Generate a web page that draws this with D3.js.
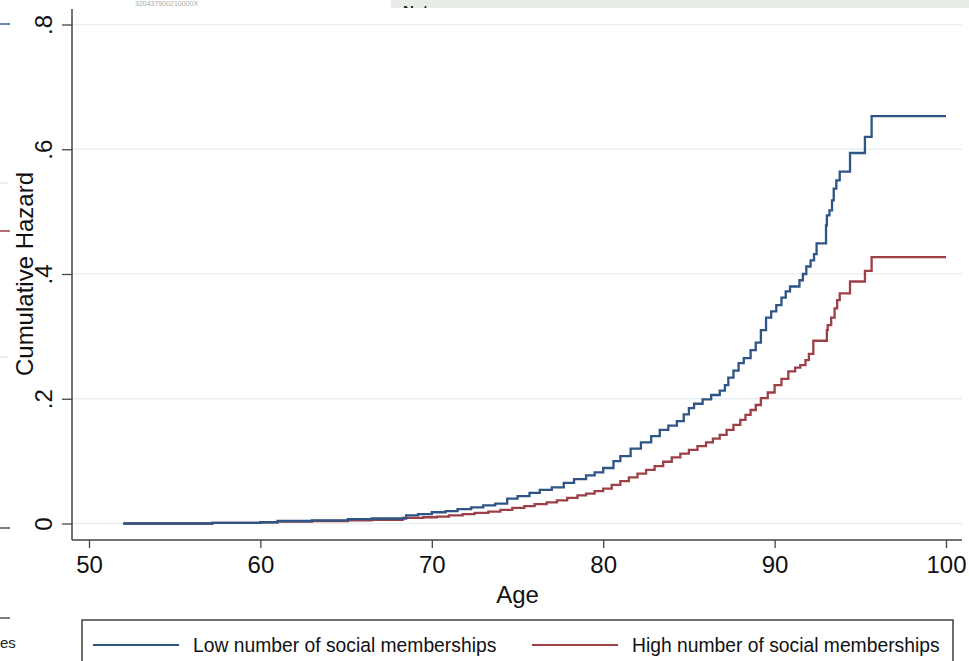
<!DOCTYPE html>
<html>
<head>
<meta charset="utf-8">
<script src="https://cdn.jsdelivr.net/npm/d3@7"></script>
<style>
  html, body { margin: 0; padding: 0; background: #fff; }
  svg { display: block; font-family: "Liberation Sans", Arial, Helvetica, sans-serif; }
</style>
</head>
<body>
<svg id="chart" width="969" height="661"></svg>
<script>
// ---------------- data ----------------
const seriesNames = ["Low number of social memberships", "High number of social memberships"];
const xTicks = [50, 60, 70, 80, 90, 100];
const xTickLabels = ["50", "60", "70", "80", "90", "100"];
const yTicks = [0, 0.2, 0.4, 0.6, 0.8];
const yTickLabels = ["0", ".2", ".4", ".6", ".8"];
const xTitle = "Age";
const yTitle = "Cumulative Hazard";

// Low number of social memberships: [age, cumulative hazard] (step function)
const lowAges = [52.0, 57.2, 60.0, 61.0, 63.0, 65.1, 66.5, 68.5, 69.2, 70.0, 70.8, 71.5, 72.3, 73.0, 73.7,
  74.4, 75.0, 75.7, 76.3, 77.0, 77.7, 78.3, 79.0, 79.5, 80.0, 80.6, 81.0, 81.6, 82.2, 82.8, 83.3, 83.8,
  84.3, 84.7, 85.0, 85.3, 85.8, 86.3, 86.8, 87.1, 87.3, 87.6, 87.9, 88.2, 88.6, 88.9, 89.2, 89.5, 89.8,
  90.1, 90.4, 90.65, 90.9, 91.45, 91.65, 91.85, 92.1, 92.3, 92.45, 93.0, 93.05, 93.2, 93.35, 93.45, 93.6,
  93.8, 94.4, 95.27, 95.66, 100];
const lowHazard = [0, 0.001, 0.002, 0.004, 0.005, 0.007, 0.008, 0.013, 0.015, 0.018, 0.020, 0.023, 0.026, 0.029, 0.032,
  0.040, 0.044, 0.049, 0.054, 0.058, 0.065, 0.071, 0.077, 0.082, 0.089, 0.100, 0.108, 0.120, 0.130, 0.140, 0.150, 0.157,
  0.164, 0.175, 0.185, 0.192, 0.199, 0.206, 0.213, 0.222, 0.234, 0.245, 0.257, 0.265, 0.278, 0.290, 0.310, 0.330, 0.340,
  0.350, 0.362, 0.372, 0.380, 0.390, 0.400, 0.412, 0.422, 0.432, 0.449, 0.478, 0.494, 0.502, 0.518, 0.537, 0.550,
  0.564, 0.594, 0.620, 0.653, 0.653];

// High number of social memberships
const highAges = [52.0, 57.2, 60.0, 61.0, 63.0, 65.1, 66.5, 68.3, 69.5, 70.3, 71.0, 71.8, 72.5, 73.3, 74.0,
  74.7, 75.4, 76.0, 76.7, 77.3, 77.9, 78.5, 79.0, 79.5, 80.0, 80.5, 81.0, 81.5, 82.0, 82.5, 83.0, 83.5,
  84.0, 84.5, 85.0, 85.5, 86.0, 86.4, 86.8, 87.2, 87.6, 88.0, 88.3, 88.6, 88.9, 89.2, 89.6, 90.0, 90.4,
  90.8, 91.2, 91.5, 91.8, 92.0, 92.26, 93.05, 93.1, 93.3, 93.5, 93.65, 93.8, 94.4, 95.27, 95.66, 100];
const highHazard = [0, 0.001, 0.002, 0.003, 0.004, 0.005, 0.006, 0.009, 0.010, 0.011, 0.013, 0.015, 0.017, 0.019, 0.022,
  0.025, 0.028, 0.031, 0.034, 0.037, 0.041, 0.045, 0.048, 0.052, 0.056, 0.062, 0.068, 0.074, 0.080, 0.086, 0.092, 0.099,
  0.106, 0.112, 0.118, 0.124, 0.130, 0.136, 0.142, 0.150, 0.158, 0.166, 0.174, 0.182, 0.190, 0.201, 0.210, 0.222, 0.232,
  0.244, 0.250, 0.254, 0.262, 0.272, 0.293, 0.310, 0.318, 0.330, 0.345, 0.358, 0.369, 0.388, 0.405, 0.427, 0.427];

const seriesColors = ["#2e5585", "#9c3f47"];

// ---------------- layout ----------------
const svg = d3.select("#chart");
const x = d3.scaleLinear().domain([50, 100]).range([89, 946]);
const y = d3.scaleLinear().domain([0, 0.8]).range([523.5, 24.5]);
const axisX = 72, axisY = 540, plotRight = 962, plotTop = 9;

// cropped-neighbour artifacts around the edges
svg.append("rect").attr("x", 391).attr("y", 0).attr("width", 578).attr("height", 8).attr("fill", "#e7ece6");
svg.append("defs").append("clipPath").attr("id", "topclip")
  .append("rect").attr("x", 391).attr("y", 0).attr("width", 578).attr("height", 8);
svg.append("text").attr("x", 403).attr("y", 16).attr("font-size", 15).attr("font-weight", "bold")
  .attr("fill", "#222").attr("clip-path", "url(#topclip)").text("Notes");
svg.append("text").attr("x", 135).attr("y", 6).attr("font-size", 7).attr("fill", "#aaa").text("320437900210000X");
const edge = [[24, "#3b6090", 10], [183, "#e3e8ea", 8], [231, "#9a3c44", 10], [357, "#e3e8ea", 8], [528, "#555", 10], [618, "#555", 10]];
edge.forEach(e => svg.append("line").attr("x1", 0).attr("x2", e[2]).attr("y1", e[0]).attr("y2", e[0])
  .attr("stroke", e[1]).attr("stroke-width", 1.5));
svg.append("text").attr("x", 0).attr("y", 648).attr("font-size", 15).attr("fill", "#222").text("es");

// gridlines
svg.append("g").selectAll("line").data(yTicks).join("line")
  .attr("x1", axisX).attr("x2", plotRight)
  .attr("y1", d => y(d)).attr("y2", d => y(d))
  .attr("stroke", "#e9eff0").attr("stroke-width", 1.6);

// series
const line = d3.line().curve(d3.curveStepAfter).x(d => x(d[0])).y(d => y(d[1]));
const series = [d3.zip(lowAges, lowHazard), d3.zip(highAges, highHazard)];
[1, 0].forEach(i => {
  svg.append("path").datum(series[i]).attr("d", line)
    .attr("fill", "none").attr("stroke", seriesColors[i]).attr("stroke-width", 2.3)
    .attr("stroke-linejoin", "miter");
});

// x axis
const gx = svg.append("g").attr("transform", `translate(0,${axisY})`)
  .call(d3.axisBottom(x).tickValues(xTicks).tickSize(8).tickSizeOuter(0)
    .tickFormat((d, i) => xTickLabels[i]));
gx.select(".domain").remove();
gx.selectAll(".tick line").attr("stroke", "#444").attr("stroke-width", 1.3);
gx.selectAll(".tick text").attr("font-size", 24).attr("fill", "#111").attr("dy", null).attr("y", 33)
  .attr("font-family", "'Liberation Sans', Arial, sans-serif");
svg.append("line").attr("x1", axisX).attr("x2", plotRight).attr("y1", axisY).attr("y2", axisY)
  .attr("stroke", "#444").attr("stroke-width", 1.5);

// y axis
const gy = svg.append("g").attr("transform", `translate(${axisX},0)`)
  .call(d3.axisLeft(y).tickValues(yTicks).tickSize(10).tickSizeOuter(0)
    .tickFormat((d, i) => yTickLabels[i]));
gy.select(".domain").remove();
gy.selectAll(".tick line").attr("stroke", "#444").attr("stroke-width", 1.3);
gy.selectAll(".tick text").attr("font-size", 24).attr("fill", "#111")
  .attr("font-family", "'Liberation Sans', Arial, sans-serif")
  .attr("x", null).attr("dy", null).attr("text-anchor", "middle")
  .attr("transform", "translate(-20,0) rotate(-90)");
svg.append("line").attr("x1", axisX).attr("x2", axisX).attr("y1", plotTop).attr("y2", axisY)
  .attr("stroke", "#444").attr("stroke-width", 1.5);

// titles
svg.append("text").attr("x", (x(50) + x(100)) / 2).attr("y", 603).attr("text-anchor", "middle")
  .attr("font-size", 24).attr("fill", "#111").text(xTitle);
svg.append("text").attr("transform", `translate(33,${y(0.4)}) rotate(-90)`).attr("text-anchor", "middle")
  .attr("font-size", 24).attr("fill", "#111").text(yTitle);

// legend
const lg = svg.append("g");
lg.append("rect").attr("x", 82).attr("y", 620).attr("width", 871).attr("height", 60)
  .attr("fill", "#fff").attr("stroke", "#333").attr("stroke-width", 1.4);
const legendPos = [{lx: 93, tx: 193}, {lx: 532, tx: 632}];
legendPos.forEach((p, i) => {
  lg.append("line").attr("x1", p.lx).attr("x2", p.lx + 86).attr("y1", 645).attr("y2", 645)
    .attr("stroke", seriesColors[i]).attr("stroke-width", 2);
  lg.append("text").attr("x", p.tx).attr("y", 652).attr("font-size", 19.3).attr("fill", "#111")
    .text(seriesNames[i]);
});
</script>
</body>
</html>
